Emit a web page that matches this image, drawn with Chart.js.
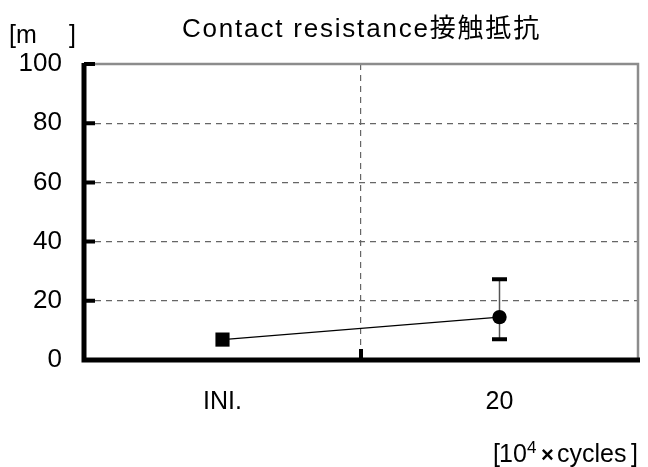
<!DOCTYPE html>
<html>
<head>
<meta charset="utf-8">
<script src="https://cdn.jsdelivr.net/npm/chart.js@4/dist/chart.umd.min.js"></script>
<style>
  html, body { margin: 0; padding: 0; background: #fff; }
  #wrap { width: 648px; height: 467px; position: relative; }
</style>
</head>
<body>
<div id="wrap"><canvas id="c" width="648" height="467"></canvas></div>
<script>
// ---- data ----
const categories = ['INI.', '20'];
const meanValues = [6.9, 14.5];
const errLow = [6.9, 7.0];
const errHigh = [6.9, 27.3];
const pointShapes = ['rect', 'circle'];
const yTicks = [0, 20, 40, 60, 80, 100];
const titleText = 'Contact resistance接触抵抗';
const yUnitOpen = '[m';
const yUnitClose = ']';
const xUnitParts = ['[', '10', '4', '×', 'cycles', ']'];

const FONT = '"Liberation Sans", Arial, "Noto Sans CJK JP", sans-serif';

const decor = {
  id: 'decor',
  beforeDatasetsDraw(chart) {
    const ctx = chart.ctx, a = chart.chartArea;
    const ys = chart.scales.y, xs = chart.scales.x;
    ctx.save();
    // top and right gray borders
    ctx.strokeStyle = '#8c8c8c';
    ctx.lineWidth = 2.5;
    ctx.beginPath();
    ctx.moveTo(a.left, a.top); ctx.lineTo(a.right, a.top); ctx.lineTo(a.right, a.bottom);
    ctx.stroke();
    // left axis & bottom axis
    ctx.strokeStyle = '#000';
    ctx.lineWidth = 5;
    ctx.beginPath();
    ctx.moveTo(a.left, a.top - 1); ctx.lineTo(a.left, a.bottom + 2.5);
    ctx.moveTo(a.left - 2.5, a.bottom); ctx.lineTo(a.right + 2, a.bottom);
    ctx.stroke();
    // y tick marks inside
    ctx.lineWidth = 4;
    ctx.beginPath();
    yTicks.forEach(v => {
      if (v === 0) return;
      const y = ys.getPixelForValue(v);
      ctx.moveTo(a.left, y); ctx.lineTo(a.left + 11, y);
    });
    // x mid tick mark
    const mid = (xs.getPixelForValue(0) + xs.getPixelForValue(1)) / 2;
    ctx.moveTo(mid, a.bottom); ctx.lineTo(mid, a.bottom - 11);
    ctx.stroke();
    // error bars
    meanValues.forEach((m, i) => {
      const x = xs.getPixelForValue(i);
      const yl = ys.getPixelForValue(errLow[i]);
      const yh = ys.getPixelForValue(errHigh[i]);
      if (Math.abs(yl - yh) < 1) return;
      ctx.strokeStyle = '#555';
      ctx.lineWidth = 1.5;
      ctx.beginPath(); ctx.moveTo(x, yl); ctx.lineTo(x, yh); ctx.stroke();
      ctx.strokeStyle = '#000';
      ctx.lineWidth = 4;
      ctx.beginPath();
      ctx.moveTo(x - 7.5, yl); ctx.lineTo(x + 7.5, yl);
      ctx.moveTo(x - 7.5, yh); ctx.lineTo(x + 7.5, yh);
      ctx.stroke();
    });
    ctx.restore();
  },
  afterDraw(chart) {
    const ctx = chart.ctx;
    ctx.save();
    ctx.fillStyle = '#000';
    ctx.textBaseline = 'alphabetic';
    ctx.textAlign = 'left';
    // title
    ctx.font = '26px ' + FONT;
    ctx.letterSpacing = '1.8px';
    ctx.fillText(titleText, 182, 37);
    ctx.letterSpacing = '0px';
    // y unit
    ctx.font = '25px ' + FONT;
    ctx.fillText(yUnitOpen, 9, 43);
    ctx.fillText(yUnitClose, 69, 43);
    // x unit
    const base = 462;
    ctx.font = '25px ' + FONT;
    ctx.fillText(xUnitParts[0], 493, base);
    ctx.fillText(xUnitParts[1], 499, base);
    ctx.font = '17px ' + FONT;
    ctx.fillText(xUnitParts[2], 527, base - 9);
    ctx.font = 'bold 22px ' + FONT;
    ctx.fillText(xUnitParts[3], 541, base);
    ctx.font = '25px ' + FONT;
    ctx.fillText(xUnitParts[4], 557, base);
    ctx.fillText(xUnitParts[5], 631, base);
    ctx.restore();
  }
};

new Chart(document.getElementById('c'), {
  type: 'line',
  data: {
    labels: categories,
    datasets: [{
      data: meanValues,
      borderColor: '#000',
      borderWidth: 1.2,
      backgroundColor: '#000',
      pointStyle: pointShapes,
      pointRadius: [10, 7.2],
      pointBorderWidth: 0,
      pointBackgroundColor: '#000',
      tension: 0
    }]
  },
  options: {
    responsive: false,
    animation: false,
    devicePixelRatio: 1,
    layout: { padding: { top: 64, right: 0, left: 0, bottom: 0 } },
    plugins: { legend: { display: false }, title: { display: false }, tooltip: { enabled: false } },
    scales: {
      x: {
        type: 'category',
        offset: true,
        afterFit: s => { s.height = 107; },
        border: { display: false, dash: [6, 5] },
        grid: {
          offset: true,
          drawTicks: false,
          color: c => (c.index === 1 ? '#666' : 'transparent'),
          lineWidth: 1.2
        },
        ticks: { color: '#000', font: { family: FONT, size: 25 }, padding: 27 }
      },
      y: {
        min: 0, max: 100,
        afterFit: s => { s.width = 84; },
        afterBuildTicks: s => { s.ticks = yTicks.map(v => ({ value: v })); },
        border: { display: false, dash: [6, 5] },
        grid: {
          drawTicks: false,
          color: c => (c.tick && (c.tick.value === 0 || c.tick.value === 100) ? 'transparent' : '#666'),
          lineWidth: 1.2
        },
        ticks: { color: '#000', font: { family: FONT, size: 26 }, padding: 22 }
      }
    }
  },
  plugins: [decor]
});
</script>
</body>
</html>
